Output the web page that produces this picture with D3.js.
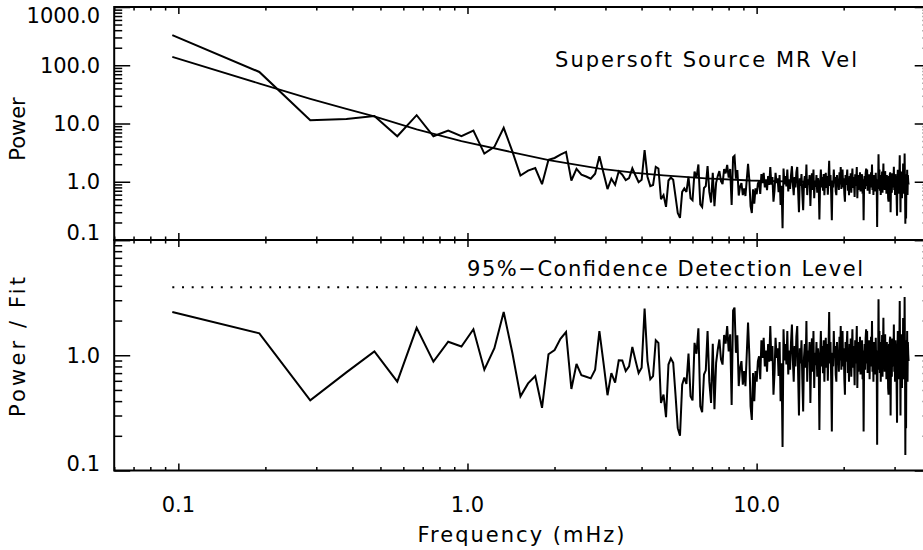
<!DOCTYPE html>
<html>
<head>
<meta charset="utf-8">
<script src="https://cdn.jsdelivr.net/npm/d3@7"></script>
<style>
    body { margin: 0; background: #fff; }
    svg text { font-family: "DejaVu Sans", sans-serif; font-size: 21px; fill: #000; }
</style>
</head>
<body>
<svg id="chart" width="923" height="550"></svg>
<script>
'use strict';

// frequency step of the periodogram (mHz); point i sits at (i + 1) * df
const df = 0.0953;

// top panel: power at each frequency
const power = [
    329, 76.7, 11.4, 12.0, 13.4, 6.04, 13.9, 6.04, 7.57, 6.04,
    7.57, 3.04, 3.96, 8.42, 3.33, 1.28, 1.55, 1.72, 0.91, 2.39,
    2.56, 2.92, 3.25, 1.05, 1.66, 1.32, 1.23, 1.13, 1.37, 2.73,
    1.41, 0.75, 1.13, 0.89, 1.51, 1.32, 1.07, 1.16, 1.70, 1.28,
    0.98, 1.08, 3.51, 1.22, 0.84, 0.88, 1.80, 1.69, 0.50, 0.59,
    0.37, 1.05, 1.18, 1.08, 0.56, 0.29, 0.24, 0.67, 0.77, 0.67,
    1.22, 0.52, 0.48, 1.50, 1.19, 1.98, 0.41, 0.37, 0.78, 0.84,
    1.85, 0.67, 0.44, 1.42, 0.38, 0.96, 1.25, 1.52, 1.02, 0.91,
    1.65, 1.39, 1.95, 1.18, 1.66, 0.40, 2.65, 2.80, 1.13, 1.59,
    0.58, 0.83, 0.95, 0.59, 0.77, 0.57, 1.08, 2.04, 1.08, 0.38,
    0.29, 0.74, 0.42, 0.77, 0.61, 0.93, 1.02,
    0.62, 1.35, 0.95, 1.42, 0.80, 1.10, 0.72, 1.25, 0.88, 1.79,
    0.89, 1.20, 0.455, 0.70, 1.42, 0.95, 1.15, 0.66, 1.30, 0.40,
    0.85, 0.16, 1.68, 0.90, 1.25, 0.83, 1.62, 0.68, 1.10, 0.75,
    1.30, 1.85, 0.92, 0.59, 1.20, 0.80, 1.45, 1.79, 0.70, 0.30,
    1.15, 0.85, 1.35, 0.62, 0.325, 0.95, 1.25, 0.78, 1.98, 0.59,
    1.10, 0.88, 1.30, 0.385, 0.95, 1.40, 0.72, 1.62, 0.52, 1.05,
    0.82, 1.30, 0.65, 1.15, 0.90, 0.225, 0.95, 1.62, 0.80, 1.20,
    0.70, 1.35, 0.59, 1.05, 1.42, 0.78, 1.25, 0.60, 1.15, 2.30,
    0.85, 1.30, 0.62, 0.218, 1.05, 0.80, 1.62, 0.95, 1.20, 0.68,
    0.59, 1.30, 0.85, 1.10, 0.72, 1.45, 0.90, 1.79, 0.75, 1.25,
    1.62, 0.80, 1.15, 0.62, 0.455, 1.30, 0.88, 1.20, 1.62, 0.70,
    1.05, 0.59, 1.25, 0.82, 1.40, 0.65, 1.10, 1.68, 0.78, 1.20,
    0.90, 0.55, 1.35, 0.85, 1.15, 1.79, 0.52, 1.05, 0.72, 1.30,
    0.95, 1.45, 0.68, 1.20, 0.80, 1.35, 0.62, 1.10, 0.218, 0.90,
    1.25, 0.75, 1.40, 1.68, 0.85, 1.62, 0.70, 1.15, 0.95, 1.35,
    0.62, 1.10, 0.80, 1.45, 0.90, 1.98, 0.72, 1.20, 0.59, 1.30,
    0.85, 1.15, 0.68, 1.42, 0.80, 0.95, 0.167, 1.10, 0.75, 2.95,
    0.90, 1.62, 0.70, 1.25, 0.59, 1.30, 0.82, 1.50, 0.65, 1.15,
    2.05, 0.85, 1.35, 0.72, 1.52, 0.95, 1.20, 0.62, 1.30, 0.80,
    1.10, 0.52, 0.455, 1.25, 0.85, 1.33, 1.45, 0.30, 0.92, 1.20,
    0.65, 1.40, 0.80, 1.30, 0.95, 1.80, 0.72, 1.15, 0.59, 1.35,
    0.85, 1.25, 0.52, 0.26, 1.10, 1.60, 0.75, 1.45, 0.62, 1.20,
    2.85, 0.90, 0.30, 1.30, 0.70, 1.50, 0.52, 1.25, 0.85, 2.05,
    0.62, 1.40, 0.80, 3.05, 0.95, 0.19, 1.35, 0.233, 1.20, 0.75,
    1.60, 0.59, 1.30, 1.00, 0.89
];

// bottom panel: power divided by the fit
const ratio = [
    2.37, 1.55, 0.406, 0.71, 1.08, 0.59, 1.73, 0.88, 1.31, 1.19,
    1.68, 0.75, 1.15, 2.37, 1.05, 0.44, 0.57, 0.66, 0.35, 1.02,
    1.11, 1.39, 1.59, 0.51, 0.84, 0.67, 0.65, 0.63, 0.75, 1.62,
    0.86, 0.45, 0.70, 0.58, 0.905, 0.90, 0.73, 0.80, 1.18, 0.90,
    0.70, 0.78, 2.54, 0.89, 0.62, 0.66, 1.35, 1.28, 0.385, 0.455,
    0.29, 0.83, 0.94, 0.86, 0.455, 0.233, 0.20, 0.555, 0.64, 0.565,
    1.035, 0.44, 0.406, 1.28, 1.03, 1.71, 0.36, 0.32, 0.68, 0.74,
    1.62, 0.59, 0.385, 1.26, 0.34, 0.86, 1.12, 1.37, 0.92, 0.83,
    1.50, 1.26, 1.79, 1.08, 1.52, 0.37, 2.45, 2.59, 1.05, 1.49,
    0.54, 0.78, 0.89, 0.555, 0.73, 0.54, 1.02, 1.92, 1.02, 0.36,
    0.275, 0.70, 0.40, 0.73, 0.59, 0.89, 0.98,
    0.62, 1.35, 0.95, 1.42, 0.80, 1.10, 0.72, 1.25, 0.88, 1.79,
    0.89, 1.20, 0.455, 0.70, 1.42, 0.95, 1.15, 0.66, 1.30, 0.40,
    0.85, 0.16, 1.68, 0.90, 1.25, 0.83, 1.62, 0.68, 1.10, 0.75,
    1.30, 1.85, 0.92, 0.59, 1.20, 0.80, 1.45, 1.79, 0.70, 0.30,
    1.15, 0.85, 1.35, 0.62, 0.325, 0.95, 1.25, 0.78, 1.98, 0.59,
    1.10, 0.88, 1.30, 0.385, 0.95, 1.40, 0.72, 1.62, 0.52, 1.05,
    0.82, 1.30, 0.65, 1.15, 0.90, 0.225, 0.95, 1.62, 0.80, 1.20,
    0.70, 1.35, 0.59, 1.05, 1.42, 0.78, 1.25, 0.60, 1.15, 2.37,
    0.85, 1.30, 0.62, 0.218, 1.05, 0.80, 1.62, 0.95, 1.20, 0.68,
    0.59, 1.30, 0.85, 1.10, 0.72, 1.45, 0.90, 1.79, 0.75, 1.25,
    1.62, 0.80, 1.15, 0.62, 0.455, 1.30, 0.88, 1.20, 1.62, 0.70,
    1.05, 0.59, 1.25, 0.82, 1.40, 0.65, 1.10, 1.68, 0.78, 1.20,
    0.90, 0.55, 1.35, 0.85, 1.15, 1.79, 0.52, 1.05, 0.72, 1.30,
    0.95, 1.45, 0.68, 1.20, 0.80, 1.35, 0.62, 1.10, 0.218, 0.90,
    1.25, 0.75, 1.40, 1.68, 0.85, 1.62, 0.70, 1.15, 0.95, 1.35,
    0.62, 1.10, 0.80, 1.45, 0.90, 1.98, 0.72, 1.20, 0.59, 1.30,
    0.85, 1.15, 0.68, 1.42, 0.80, 0.95, 0.167, 1.10, 0.75, 3.06,
    0.90, 1.62, 0.70, 1.25, 0.59, 1.30, 0.82, 1.50, 0.65, 1.15,
    2.12, 0.85, 1.35, 0.72, 1.52, 0.95, 1.20, 0.62, 1.30, 0.80,
    1.10, 0.52, 0.455, 1.25, 0.85, 1.33, 1.45, 0.30, 0.92, 1.20,
    0.65, 1.40, 0.80, 1.30, 0.95, 1.85, 0.72, 1.15, 0.59, 1.35,
    0.85, 1.25, 0.52, 0.26, 1.10, 1.62, 0.75, 1.45, 0.62, 1.20,
    2.96, 0.90, 0.30, 1.30, 0.70, 1.52, 0.52, 1.25, 0.85, 2.10,
    0.62, 1.40, 0.80, 3.20, 0.95, 0.136, 1.35, 0.233, 1.20, 0.75,
    1.62, 0.59, 1.30, 1.02, 0.89
];

// smooth fit curve read at a set of frequencies
const fitFreq  = [0.0953, 0.191, 0.286, 0.381, 0.476, 0.667, 0.953, 1.43, 1.91, 2.86, 3.81, 4.76, 6.67, 9.53, 14.3, 19.1, 26.7, 33.5];
const fitPower = [139, 48.5, 26.5, 17.8, 13.3, 7.9, 5.0, 3.2, 2.35, 1.68, 1.42, 1.29, 1.14, 1.05, 1.0, 0.98, 0.965, 0.955];

const confLevel = 3.9;   // 95% detection level in power / fit

const xTicks = [0.1, 1, 10];
const xTickLabels = ["0.1", "1.0", "10.0"];
const powerTicks = [0.1, 1, 10, 100, 1000];
const powerTickLabels = ["0.1", "1.0", "10.0", "100.0", "1000.0"];
const ratioTicks = [0.1, 1, 10];
const ratioTickLabels = ["0.1", "1.0", ""];

let svg = d3.select("#chart");

let left = 114.2, right = 930.7,
    top1 = 7, bot1 = 240,
    top2 = 240, bot2 = 470.5;

let x = d3.scaleLog().domain([0.06, 40]).range([left, right]);
let yTop = d3.scaleLog().domain([0.1, 1000]).range([bot1, top1]);
let yBot = d3.scaleLog().domain([0.1, 10]).range([bot2, top2]);

let freq = power.map((d, i) => (i + 1) * df);
let powerData = power.map((v, i) => ({f: freq[i], v: v}));
let ratioData = ratio.map((v, i) => ({f: freq[i], v: v}));
let fitData = fitFreq.map((f, i) => ({f: f, v: fitPower[i]}));

let isDecade = v => Math.abs(Math.log10(v) - Math.round(Math.log10(v))) < 1e-6;
let xMinor = x.ticks().filter(v => !isDecade(v));

function drawTicks(gen, pos, vals, len) {
    let g = svg.append("g")
        .attr("transform", pos)
        .call(gen.tickValues(vals).tickSize(len).tickFormat(""));
    g.select(".domain").remove();
    g.selectAll("line").attr("stroke", "#000").attr("stroke-width", 1.5);
}

function panel(y, top, bottom, majors, labels) {
    let yMinor = y.ticks().filter(v => !isDecade(v));

    // y ticks, left and right side
    drawTicks(d3.axisRight(y), "translate(" + left + ",0)", yMinor, 8);
    drawTicks(d3.axisRight(y), "translate(" + left + ",0)", majors, 16);
    drawTicks(d3.axisLeft(y), "translate(" + right + ",0)", yMinor, 8);
    drawTicks(d3.axisLeft(y), "translate(" + right + ",0)", majors, 16);

    // x ticks, top and bottom side
    drawTicks(d3.axisBottom(x), "translate(0," + top + ")", xMinor, 3.5);
    drawTicks(d3.axisBottom(x), "translate(0," + top + ")", xTicks, 7);
    drawTicks(d3.axisTop(x), "translate(0," + bottom + ")", xMinor, 3.5);
    drawTicks(d3.axisTop(x), "translate(0," + bottom + ")", xTicks, 7);

    svg.append("rect")
        .attr("x", left).attr("y", top)
        .attr("width", right - left).attr("height", bottom - top)
        .attr("fill", "none").attr("stroke", "#000").attr("stroke-width", 2);

    // tick labels, kept inside the axis range like the original
    svg.selectAll()
        .data(majors.map((v, i) => ({v: v, t: labels[i]})))
        .enter().append("text")
        .attr("x", 100)
        .attr("y", d => Math.min(Math.max(y(d.v) + 7.5, top + 16), bottom))
        .style("text-anchor", "end")
        .text(d => d.t);
}

panel(yTop, top1, bot1, powerTicks, powerTickLabels);
panel(yBot, top2, bot2, ratioTicks, ratioTickLabels);

let lineTop = d3.line().x(d => x(d.f)).y(d => yTop(d.v));
let lineBot = d3.line().x(d => x(d.f)).y(d => yBot(d.v));

svg.append("path")
    .attr("d", lineTop(fitData))
    .attr("fill", "none").attr("stroke", "#000").attr("stroke-width", 1.8);

svg.append("path")
    .attr("d", lineTop(powerData))
    .attr("fill", "none").attr("stroke", "#000").attr("stroke-width", 2)
    .attr("stroke-linejoin", "miter").attr("stroke-miterlimit", 3);

svg.append("path")
    .attr("d", lineBot(ratioData))
    .attr("fill", "none").attr("stroke", "#000").attr("stroke-width", 2)
    .attr("stroke-linejoin", "miter").attr("stroke-miterlimit", 3);

// detection level, dotted
svg.append("line")
    .attr("x1", x(freq[0])).attr("x2", x(freq[freq.length - 1]))
    .attr("y1", yBot(confLevel)).attr("y2", yBot(confLevel))
    .attr("stroke", "#000").attr("stroke-width", 2)
    .attr("stroke-dasharray", "2 7.7");

// x tick labels
svg.selectAll()
    .data(xTicks.map((v, i) => ({v: v, t: xTickLabels[i]})))
    .enter().append("text")
    .attr("x", d => x(d.v))
    .attr("y", 512)
    .style("text-anchor", "middle")
    .text(d => d.t);

svg.append("text")
    .attr("x", 521).attr("y", 542)
    .style("text-anchor", "middle")
    .attr("textLength", 207).attr("lengthAdjust", "spacing")
    .text("Frequency (mHz)");

svg.append("text")
    .attr("transform", "translate(25,129) rotate(-90)")
    .style("text-anchor", "middle")
    .text("Power");

svg.append("text")
    .attr("transform", "translate(25,347) rotate(-90)")
    .style("text-anchor", "middle")
    .attr("textLength", 140).attr("lengthAdjust", "spacing")
    .text("Power / Fit");

svg.append("text")
    .attr("x", 555).attr("y", 66.5)
    .attr("textLength", 302).attr("lengthAdjust", "spacing")
    .text("Supersoft Source MR Vel");

svg.append("text")
    .attr("x", 467).attr("y", 276)
    .attr("textLength", 396).attr("lengthAdjust", "spacing")
    .text("95%\u2212Confidence Detection Level");
</script>
</body>
</html>
